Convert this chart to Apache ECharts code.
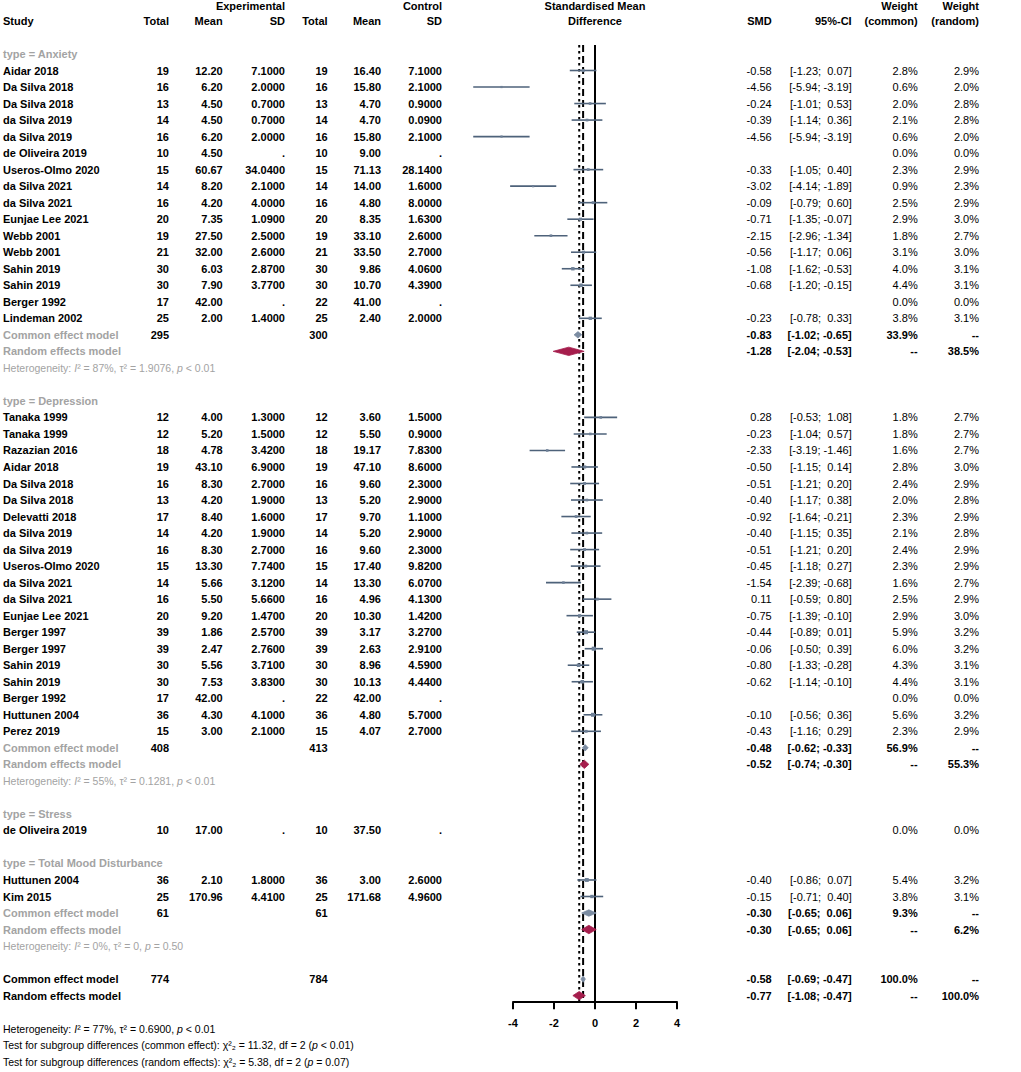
<!DOCTYPE html>
<html>
<head>
<meta charset="utf-8">
<script src="https://cdn.jsdelivr.net/npm/echarts@6/dist/echarts.min.js"></script>
<style>
  html, body { margin: 0; padding: 0; background: #fff; }
  #main { width: 1021px; height: 1072px; }
</style>
</head>
<body>
<div id="main"></div>
<script>
// subgroups
const groupNames = ['Anxiety', 'Depression', 'Stress', 'Total Mood Disturbance'];
const groupSize = [16, 20, 1, 2];

// studies (in plot order)
const study = [
  'Aidar 2018', 'Da Silva 2018', 'Da Silva 2018', 'da Silva 2019', 'da Silva 2019', 'de Oliveira 2019',
  'Useros-Olmo 2020', 'da Silva 2021', 'da Silva 2021', 'Eunjae Lee 2021', 'Webb 2001', 'Webb 2001',
  'Sahin 2019', 'Sahin 2019', 'Berger 1992', 'Lindeman 2002',
  'Tanaka 1999', 'Tanaka 1999', 'Razazian 2016', 'Aidar 2018', 'Da Silva 2018', 'Da Silva 2018',
  'Delevatti 2018', 'da Silva 2019', 'da Silva 2019', 'Useros-Olmo 2020', 'da Silva 2021', 'da Silva 2021',
  'Eunjae Lee 2021', 'Berger 1997', 'Berger 1997', 'Sahin 2019', 'Sahin 2019', 'Berger 1992',
  'Huttunen 2004', 'Perez 2019',
  'de Oliveira 2019',
  'Huttunen 2004', 'Kim 2015'
];
const nE = [19, 16, 13, 14, 16, 10, 15, 14, 16, 20, 19, 21, 30, 30, 17, 25,
  12, 12, 18, 19, 16, 13, 17, 14, 16, 15, 14, 16, 20, 39, 39, 30, 30, 17, 36, 15,
  10,
  36, 25];
const meanE = [12.20, 6.20, 4.50, 4.50, 6.20, 4.50, 60.67, 8.20, 4.20, 7.35, 27.50, 32.00, 6.03, 7.90, 42.00, 2.00,
  4.00, 5.20, 4.78, 43.10, 8.30, 4.20, 8.40, 4.20, 8.30, 13.30, 5.66, 5.50, 9.20, 1.86, 2.47, 5.56, 7.53, 42.00, 4.30, 3.00,
  17.00,
  2.10, 170.96];
const sdE = [7.1, 2.0, 0.7, 0.7, 2.0, null, 34.04, 2.1, 4.0, 1.09, 2.5, 2.6, 2.87, 3.77, null, 1.4,
  1.3, 1.5, 3.42, 6.9, 2.7, 1.9, 1.6, 1.9, 2.7, 7.74, 3.12, 5.66, 1.47, 2.57, 2.76, 3.71, 3.83, null, 4.1, 2.1,
  null,
  1.8, 4.41];
const nC = [19, 16, 13, 14, 16, 10, 15, 14, 16, 20, 19, 21, 30, 30, 22, 25,
  12, 12, 18, 19, 16, 13, 17, 14, 16, 15, 14, 16, 20, 39, 39, 30, 30, 22, 36, 15,
  10,
  36, 25];
const meanC = [16.40, 15.80, 4.70, 4.70, 15.80, 9.00, 71.13, 14.00, 4.80, 8.35, 33.10, 33.50, 9.86, 10.70, 41.00, 2.40,
  3.60, 5.50, 19.17, 47.10, 9.60, 5.20, 9.70, 5.20, 9.60, 17.40, 13.30, 4.96, 10.30, 3.17, 2.63, 8.96, 10.13, 42.00, 4.80, 4.07,
  37.50,
  3.00, 171.68];
const sdC = [7.1, 2.1, 0.9, 0.09, 2.1, null, 28.14, 1.6, 8.0, 1.63, 2.6, 2.7, 4.06, 4.39, null, 2.0,
  1.5, 0.9, 7.83, 8.6, 2.3, 2.9, 1.1, 2.9, 2.3, 9.82, 6.07, 4.13, 1.42, 3.27, 2.91, 4.59, 4.44, null, 5.7, 2.7,
  null,
  2.6, 4.96];
const smd = [-0.58, -4.56, -0.24, -0.39, -4.56, null, -0.33, -3.02, -0.09, -0.71, -2.15, -0.56, -1.08, -0.68, null, -0.23,
  0.28, -0.23, -2.33, -0.50, -0.51, -0.40, -0.92, -0.40, -0.51, -0.45, -1.54, 0.11, -0.75, -0.44, -0.06, -0.80, -0.62, null, -0.10, -0.43,
  null,
  -0.40, -0.15];
const lower = [-1.23, -5.94, -1.01, -1.14, -5.94, null, -1.05, -4.14, -0.79, -1.35, -2.96, -1.17, -1.62, -1.20, null, -0.78,
  -0.53, -1.04, -3.19, -1.15, -1.21, -1.17, -1.64, -1.15, -1.21, -1.18, -2.39, -0.59, -1.39, -0.89, -0.50, -1.33, -1.14, null, -0.56, -1.16,
  null,
  -0.86, -0.71];
const upper = [0.07, -3.19, 0.53, 0.36, -3.19, null, 0.40, -1.89, 0.60, -0.07, -1.34, 0.06, -0.53, -0.15, null, 0.33,
  1.08, 0.57, -1.46, 0.14, 0.20, 0.38, -0.21, 0.35, 0.20, 0.27, -0.68, 0.80, -0.10, 0.01, 0.39, -0.28, -0.10, null, 0.36, 0.29,
  null,
  0.07, 0.40];
const wCommon = [2.8, 0.6, 2.0, 2.1, 0.6, 0.0, 2.3, 0.9, 2.5, 2.9, 1.8, 3.1, 4.0, 4.4, 0.0, 3.8,
  1.8, 1.8, 1.6, 2.8, 2.4, 2.0, 2.3, 2.1, 2.4, 2.3, 1.6, 2.5, 2.9, 5.9, 6.0, 4.3, 4.4, 0.0, 5.6, 2.3,
  0.0,
  5.4, 3.8];
const wRandom = [2.9, 2.0, 2.8, 2.8, 2.0, 0.0, 2.9, 2.3, 2.9, 3.0, 2.7, 3.0, 3.1, 3.1, 0.0, 3.1,
  2.7, 2.7, 2.7, 3.0, 2.9, 2.8, 2.9, 2.8, 2.9, 2.9, 2.7, 2.9, 3.0, 3.2, 3.2, 3.1, 3.1, 0.0, 3.2, 2.9,
  0.0,
  3.2, 3.1];

// subgroup summaries (null = no pooled estimate)
const subNE = [295, 408, null, 61];
const subNC = [300, 413, null, 61];
const subCommon = [-0.83, -0.48, null, -0.30];
const subCommonLo = [-1.02, -0.62, null, -0.65];
const subCommonHi = [-0.65, -0.33, null, 0.06];
const subRandom = [-1.28, -0.52, null, -0.30];
const subRandomLo = [-2.04, -0.74, null, -0.65];
const subRandomHi = [-0.53, -0.30, null, 0.06];
const subWCommon = [33.9, 56.9, null, 9.3];
const subWRandom = [38.5, 55.3, null, 6.2];
const subI2 = ['87%', '55%', null, '0%'];
const subTau2 = ['1.9076', '0.1281', null, '0'];
const subP = ['< 0.01', '< 0.01', null, '= 0.50'];

// overall
const totN = [774, 784];
const totCommon = [-0.58, -0.69, -0.47];   // est, lo, hi
const totRandom = [-0.77, -1.08, -0.47];
const totHet = ['77%', '0.6900', '< 0.01'];
const testCommon = ['11.32', '2', '< 0.01'];
const testRandom = ['5.38', '2', '= 0.07'];

const xTicks = [-4, -2, 0, 2, 4];

// ---- layout ----
const ROW_H = 16.52, ROW0 = 70.5, H = 1072;
const X_LEFT = 472, X_UNIT = 20.5, X_MIN = -6, X_MAX = 4;
const FONT = '"Liberation Sans", Arial, sans-serif';
const GRAY = '#a3a3a3';
const col = { study: 3, nE: 169, meanE: 222.7, sdE: 285, nC: 327.7, meanC: 381, sdC: 442,
  smd: 771.7, ci: 851.7, wc: 917.7, wr: 979 };

const NB = '\u00a0';
const pad = v => (v >= 0 ? NB : '') + v.toFixed(2);
const fmtCI = (lo, hi) => '[' + pad(lo) + ';' + NB + pad(hi) + ']';
const fmtW = w => w == null ? '--' : w.toFixed(1) + '%';

function c(text, key, opt) {
  opt = opt || {};
  return Object.assign({ text: String(text), x: col[key], align: key === 'study' ? 'left' : 'right',
    weight: 'normal', fill: '#000', size: 11 }, opt);
}
function het(row, i2, tau2, p, fill) {
  return { row, cells: [{ x: col.study, align: 'left', fill, size: 10.5,
    text: '{n|Heterogeneity: }{i|I}{n|² = ' + i2 + ', τ² = ' + tau2 + ', }{i|p}{n| ' + p + '}' }] };
}

const lines = [], ciData = [], commonDm = [], randomDm = [];
// header (top line nudged down so it stays inside the page)
lines.push({ row: -3.88, cells: [
  c('Experimental', 'sdE', { weight: 'bold' }), c('Control', 'sdC', { weight: 'bold' }),
  c('Standardised Mean', 'smd', { weight: 'bold', xv: 0, align: 'center' }),
  c('Weight', 'wc', { weight: 'bold' }), c('Weight', 'wr', { weight: 'bold' })] });
lines.push({ row: -3, cells: [
  c('Study', 'study', { weight: 'bold' }), c('Total', 'nE', { weight: 'bold' }), c('Mean', 'meanE', { weight: 'bold' }),
  c('SD', 'sdE', { weight: 'bold' }), c('Total', 'nC', { weight: 'bold' }), c('Mean', 'meanC', { weight: 'bold' }),
  c('SD', 'sdC', { weight: 'bold' }), c('Difference', 'smd', { weight: 'bold', xv: 0, align: 'center' }),
  c('SMD', 'smd', { weight: 'bold' }), c('95%-CI', 'ci', { weight: 'bold' }),
  c('(common)', 'wc', { weight: 'bold' }), c('(random)', 'wr', { weight: 'bold' })] });

let row = -1, k = 0;
const B = { weight: 'bold' };
groupNames.forEach((g, gi) => {
  lines.push({ row, cells: [c('type = ' + g, 'study', { weight: 'bold', fill: GRAY })] });
  row++;
  for (let j = 0; j < groupSize[gi]; j++, k++) {
    const cells = [
      c(study[k], 'study', B), c(nE[k], 'nE', B), c(meanE[k].toFixed(2), 'meanE', B),
      c(sdE[k] == null ? '.' : sdE[k].toFixed(4), 'sdE', B), c(nC[k], 'nC', B),
      c(meanC[k].toFixed(2), 'meanC', B), c(sdC[k] == null ? '.' : sdC[k].toFixed(4), 'sdC', B),
      c(fmtW(wCommon[k]), 'wc'), c(fmtW(wRandom[k]), 'wr')];
    if (smd[k] != null) {
      cells.push(c(smd[k].toFixed(2), 'smd'), c(fmtCI(lower[k], upper[k]), 'ci'));
      ciData.push([lower[k], upper[k], smd[k], row, wCommon[k]]);
    }
    lines.push({ row, cells });
    row++;
  }
  if (subCommon[gi] != null) {
    lines.push({ row, cells: [
      c('Common effect model', 'study', { weight: 'bold', fill: GRAY }), c(subNE[gi], 'nE', B), c(subNC[gi], 'nC', B),
      c(subCommon[gi].toFixed(2), 'smd', B), c(fmtCI(subCommonLo[gi], subCommonHi[gi]), 'ci', B),
      c(fmtW(subWCommon[gi]), 'wc', B), c('--', 'wr', B)] });
    commonDm.push([subCommonLo[gi], subCommonHi[gi], subCommon[gi], row]);
    row++;
    lines.push({ row, cells: [
      c('Random effects model', 'study', { weight: 'bold', fill: GRAY }),
      c(subRandom[gi].toFixed(2), 'smd', B), c(fmtCI(subRandomLo[gi], subRandomHi[gi]), 'ci', B),
      c('--', 'wc', B), c(fmtW(subWRandom[gi]), 'wr', B)] });
    randomDm.push([subRandomLo[gi], subRandomHi[gi], subRandom[gi], row]);
    row++;
    lines.push(het(row, subI2[gi], subTau2[gi], subP[gi], GRAY));
    row++;
  }
  row++;
});
// overall
lines.push({ row, cells: [
  c('Common effect model', 'study', B), c(totN[0], 'nE', B), c(totN[1], 'nC', B),
  c(totCommon[0].toFixed(2), 'smd', B), c(fmtCI(totCommon[1], totCommon[2]), 'ci', B),
  c('100.0%', 'wc', B), c('--', 'wr', B)] });
commonDm.push([totCommon[1], totCommon[2], totCommon[0], row]);
row++;
lines.push({ row, cells: [
  c('Random effects model', 'study', B),
  c(totRandom[0].toFixed(2), 'smd', B), c(fmtCI(totRandom[1], totRandom[2]), 'ci', B),
  c('--', 'wc', B), c('100.0%', 'wr', B)] });
randomDm.push([totRandom[1], totRandom[2], totRandom[0], row]);
const axisRow = row + 0.4;
row += 2;
lines.push(het(row, totHet[0], totHet[1], totHet[2], '#000'));
row++;
lines.push({ row, cells: [{ x: col.study, align: 'left', fill: '#000', size: 10.5,
  text: '{n|Test for subgroup differences (common effect): χ²₂ = ' + testCommon[0] + ', df = ' + testCommon[1] + ' (}{i|p}{n| ' + testCommon[2] + ')}' }] });
row++;
lines.push({ row, cells: [{ x: col.study, align: 'left', fill: '#000', size: 10.5,
  text: '{n|Test for subgroup differences (random effects): χ²₂ = ' + testRandom[0] + ', df = ' + testRandom[1] + ' (}{i|p}{n| ' + testRandom[2] + ')}' }] });

const topRow = -1.55;
const yMin = -ROW0 / ROW_H, yMax = (H - ROW0) / ROW_H;
const axisY = ROW0 + axisRow * ROW_H;

const chart = echarts.init(document.getElementById('main'), null, { renderer: 'svg' });

function textItem(params, api) {
  const ln = lines[params.dataIndex];
  const y = api.coord([0, ln.row])[1];
  return {
    type: 'group',
    children: ln.cells.map(cl => {
      const fill = cl.fill;
      const style = {
        text: cl.text, x: cl.xv != null ? api.coord([cl.xv, 0])[0] : cl.x, y,
        align: cl.align, verticalAlign: 'middle', fill,
        fontFamily: FONT, fontSize: cl.size, fontWeight: cl.weight
      };
      if (cl.text.indexOf('{n|') === 0) {
        style.rich = {
          n: { fontFamily: FONT, fontSize: cl.size, fill },
          i: { fontFamily: FONT, fontSize: cl.size, fontStyle: 'italic', fill }
        };
      }
      return { type: 'text', style };
    })
  };
}

function ciItem(params, api) {
  const a = api.coord([api.value(0), api.value(3)]);
  const b = api.coord([api.value(1), api.value(3)]);
  const e = api.coord([api.value(2), api.value(3)]);
  const s = 2 + api.value(4) * 0.35;
  return {
    type: 'group',
    children: [
      { type: 'line', shape: { x1: a[0], y1: a[1], x2: b[0], y2: b[1] },
        style: { stroke: '#4e627a', lineWidth: 1.6 } },
      { type: 'rect', shape: { x: e[0] - s / 2, y: e[1] - s / 2, width: s, height: s },
        style: { fill: '#6d7f96' } }
    ]
  };
}

function diamond(color, halfH) {
  return function (params, api) {
    const a = api.coord([api.value(0), api.value(3)]);
    const b = api.coord([api.value(1), api.value(3)]);
    const e = api.coord([api.value(2), api.value(3)]);
    return {
      type: 'polygon',
      shape: { points: [[a[0], a[1]], [e[0], e[1] - halfH], [b[0], b[1]], [e[0], e[1] + halfH]] },
      style: { fill: color, stroke: color, lineWidth: 0.8 }
    };
  };
}

function vline(x, type) {
  return {
    type: 'line', xAxisIndex: 0, yAxisIndex: 0, silent: true, showSymbol: false, z: 1,
    data: [[x, topRow], [x, axisRow]],
    lineStyle: { color: '#000', width: 2, type }
  };
}

chart.setOption({
  animation: false,
  grid: [
    { left: X_LEFT, width: (X_MAX - X_MIN) * X_UNIT, top: 0, height: H },
    { left: X_LEFT + (xTicks[0] - X_MIN) * X_UNIT, width: (xTicks[xTicks.length - 1] - xTicks[0]) * X_UNIT,
      top: axisY - 1, height: 1 }
  ],
  xAxis: [
    { type: 'value', gridIndex: 0, min: X_MIN, max: X_MAX, show: false },
    { type: 'value', gridIndex: 1, min: xTicks[0], max: xTicks[xTicks.length - 1], interval: 2,
      position: 'bottom', splitLine: { show: false },
      axisLine: { show: true, lineStyle: { color: '#000', width: 2 } },
      axisTick: { show: true, length: 7, lineStyle: { color: '#000', width: 2 } },
      axisLabel: { color: '#000', fontFamily: FONT, fontSize: 11, fontWeight: 'bold', margin: 15 } }
  ],
  yAxis: [
    { type: 'value', gridIndex: 0, min: yMin, max: yMax, inverse: true, show: false },
    { type: 'value', gridIndex: 1, show: false }
  ],
  series: [
    vline(0, 'solid'),
    vline(totCommon[0], [7, 4]),
    vline(totRandom[0], [2.5, 3.5]),
    { type: 'custom', xAxisIndex: 0, yAxisIndex: 0, clip: false, silent: true, z: 3,
      renderItem: ciItem, data: ciData },
    { type: 'custom', xAxisIndex: 0, yAxisIndex: 0, clip: false, silent: true, z: 3,
      renderItem: diamond('#7b8ca2', 3.2), data: commonDm },
    { type: 'custom', xAxisIndex: 0, yAxisIndex: 0, clip: false, silent: true, z: 3,
      renderItem: diamond('#a51d4c', 4.2), data: randomDm },
    { type: 'custom', xAxisIndex: 0, yAxisIndex: 0, clip: false, silent: true, z: 4,
      renderItem: textItem, data: lines.map(l => [0, l.row]) }
  ]
});
</script>
</body>
</html>
